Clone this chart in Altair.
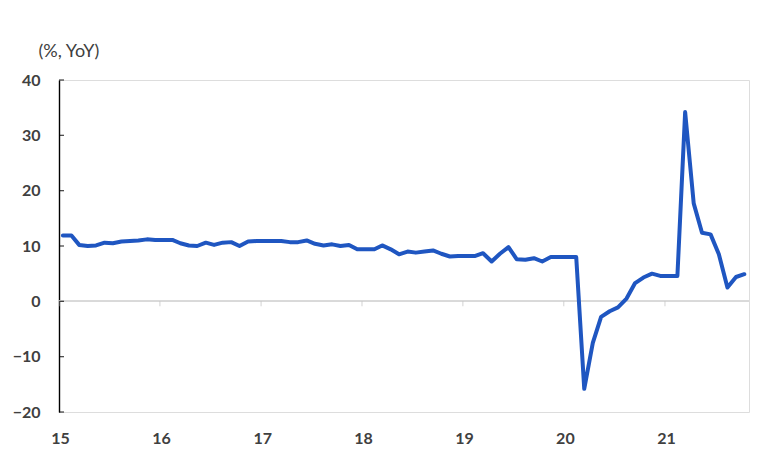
import altair as alt
import pandas as pd

# Monthly YoY growth (%), Jan 2015 - Oct 2021
months = pd.date_range("2015-01-01", periods=82, freq="MS") + pd.Timedelta(days=14)
values_2015 = [11.9, 11.9, 10.2, 10.0, 10.1, 10.6, 10.5, 10.8, 10.9, 11.0, 11.2, 11.1]
values_2016 = [11.1, 11.1, 10.5, 10.1, 10.0, 10.6, 10.2, 10.6, 10.7, 10.0, 10.8, 10.9]
values_2017 = [10.9, 10.9, 10.9, 10.7, 10.7, 11.0, 10.4, 10.1, 10.3, 10.0, 10.2, 9.4]
values_2018 = [9.4, 9.4, 10.1, 9.4, 8.5, 9.0, 8.8, 9.0, 9.2, 8.6, 8.1, 8.2]
values_2019 = [8.2, 8.2, 8.7, 7.2, 8.6, 9.8, 7.6, 7.5, 7.8, 7.2, 8.0, 8.0]
values_2020 = [8.0, 8.0, -15.8, -7.5, -2.8, -1.8, -1.1, 0.5, 3.3, 4.3, 5.0, 4.6]
values_2021 = [4.6, 4.6, 34.2, 17.7, 12.4, 12.1, 8.5, 2.5, 4.4, 4.9]

values = values_2015 + values_2016 + values_2017 + values_2018 + values_2019 + values_2020 + values_2021

year_ticks = ["2015-01-01", "2016-01-01", "2017-01-01", "2018-01-01",
              "2019-01-01", "2020-01-01", "2021-01-01"]
year_labels = ["2015-01-05", "2016-01-05", "2017-01-05", "2018-01-05",
               "2019-01-05", "2020-01-05", "2021-01-05"]
y_ticks = [-20, -10, 0, 10, 20, 30, 40]
y_title = "(%, YoY)"

df = pd.DataFrame({"date": months, "value": values})
df_years = pd.DataFrame({"date": pd.to_datetime(year_ticks), "zero": 0})
df_yt = pd.DataFrame({"date": pd.to_datetime([year_ticks[0]] * len(y_ticks)), "v": y_ticks})

FONT = "Lato"
TXT = "#404040"

x_scale = alt.Scale(domain=["2015-01-01", "2021-11-01"], nice=False)
y_scale = alt.Scale(domain=[-20, 40], nice=False, zero=False)

x_enc = alt.X(
    "date:T", scale=x_scale, title=None,
    axis=alt.Axis(values=year_labels, format="%y", domain=False, ticks=False,
                  grid=False, labelFont=FONT, labelFontSize=16,
                  labelFontWeight="bold", labelColor=TXT, labelPadding=18),
)

zero_line = alt.Chart(df_years).mark_rule(color="#d9d9d9", strokeWidth=1.5).encode(
    y=alt.Y("zero:Q", scale=y_scale)
)

x_ticks = alt.Chart(df_years).mark_tick(
    orient="vertical", size=5, thickness=1, color="#bfbfbf", yOffset=2.5
).encode(
    x=alt.X("date:T", scale=x_scale),
    y=alt.Y("zero:Q", scale=y_scale),
)

y_tick_marks = alt.Chart(df_yt).mark_tick(
    orient="horizontal", size=5, thickness=1.3, color="black", xOffset=2.5
).encode(
    x=alt.X("date:T", scale=x_scale),
    y=alt.Y("v:Q", scale=y_scale),
)

line = alt.Chart(df).mark_line(
    color="#1F56C1", strokeWidth=4, strokeJoin="round", strokeCap="round"
).encode(
    x=x_enc,
    y=alt.Y(
        "value:Q", scale=y_scale, title=y_title,
        axis=alt.Axis(values=y_ticks, grid=False, ticks=False, domainColor="black",
                      domainWidth=1.4, labelFont=FONT, labelFontSize=16,
                      labelFontWeight="bold", labelColor=TXT, labelPadding=19,
                      titleAngle=0, titleAlign="left", titleBaseline="middle",
                      titleX=-21, titleY=-29, titleFont=FONT, titleFontSize=18,
                      titleFontWeight="normal", titleColor=TXT),
    ),
)

chart = alt.layer(zero_line, x_ticks, y_tick_marks, line).properties(
    width=690, height=332,
    autosize=alt.AutoSizeParams(type="none"),
    padding={"left": 51, "top": 72, "right": 10, "bottom": 40},
).configure_view(stroke=None).configure(background="white")

chart.save("out.html", embed_options={"renderer": "svg", "actions": False})
